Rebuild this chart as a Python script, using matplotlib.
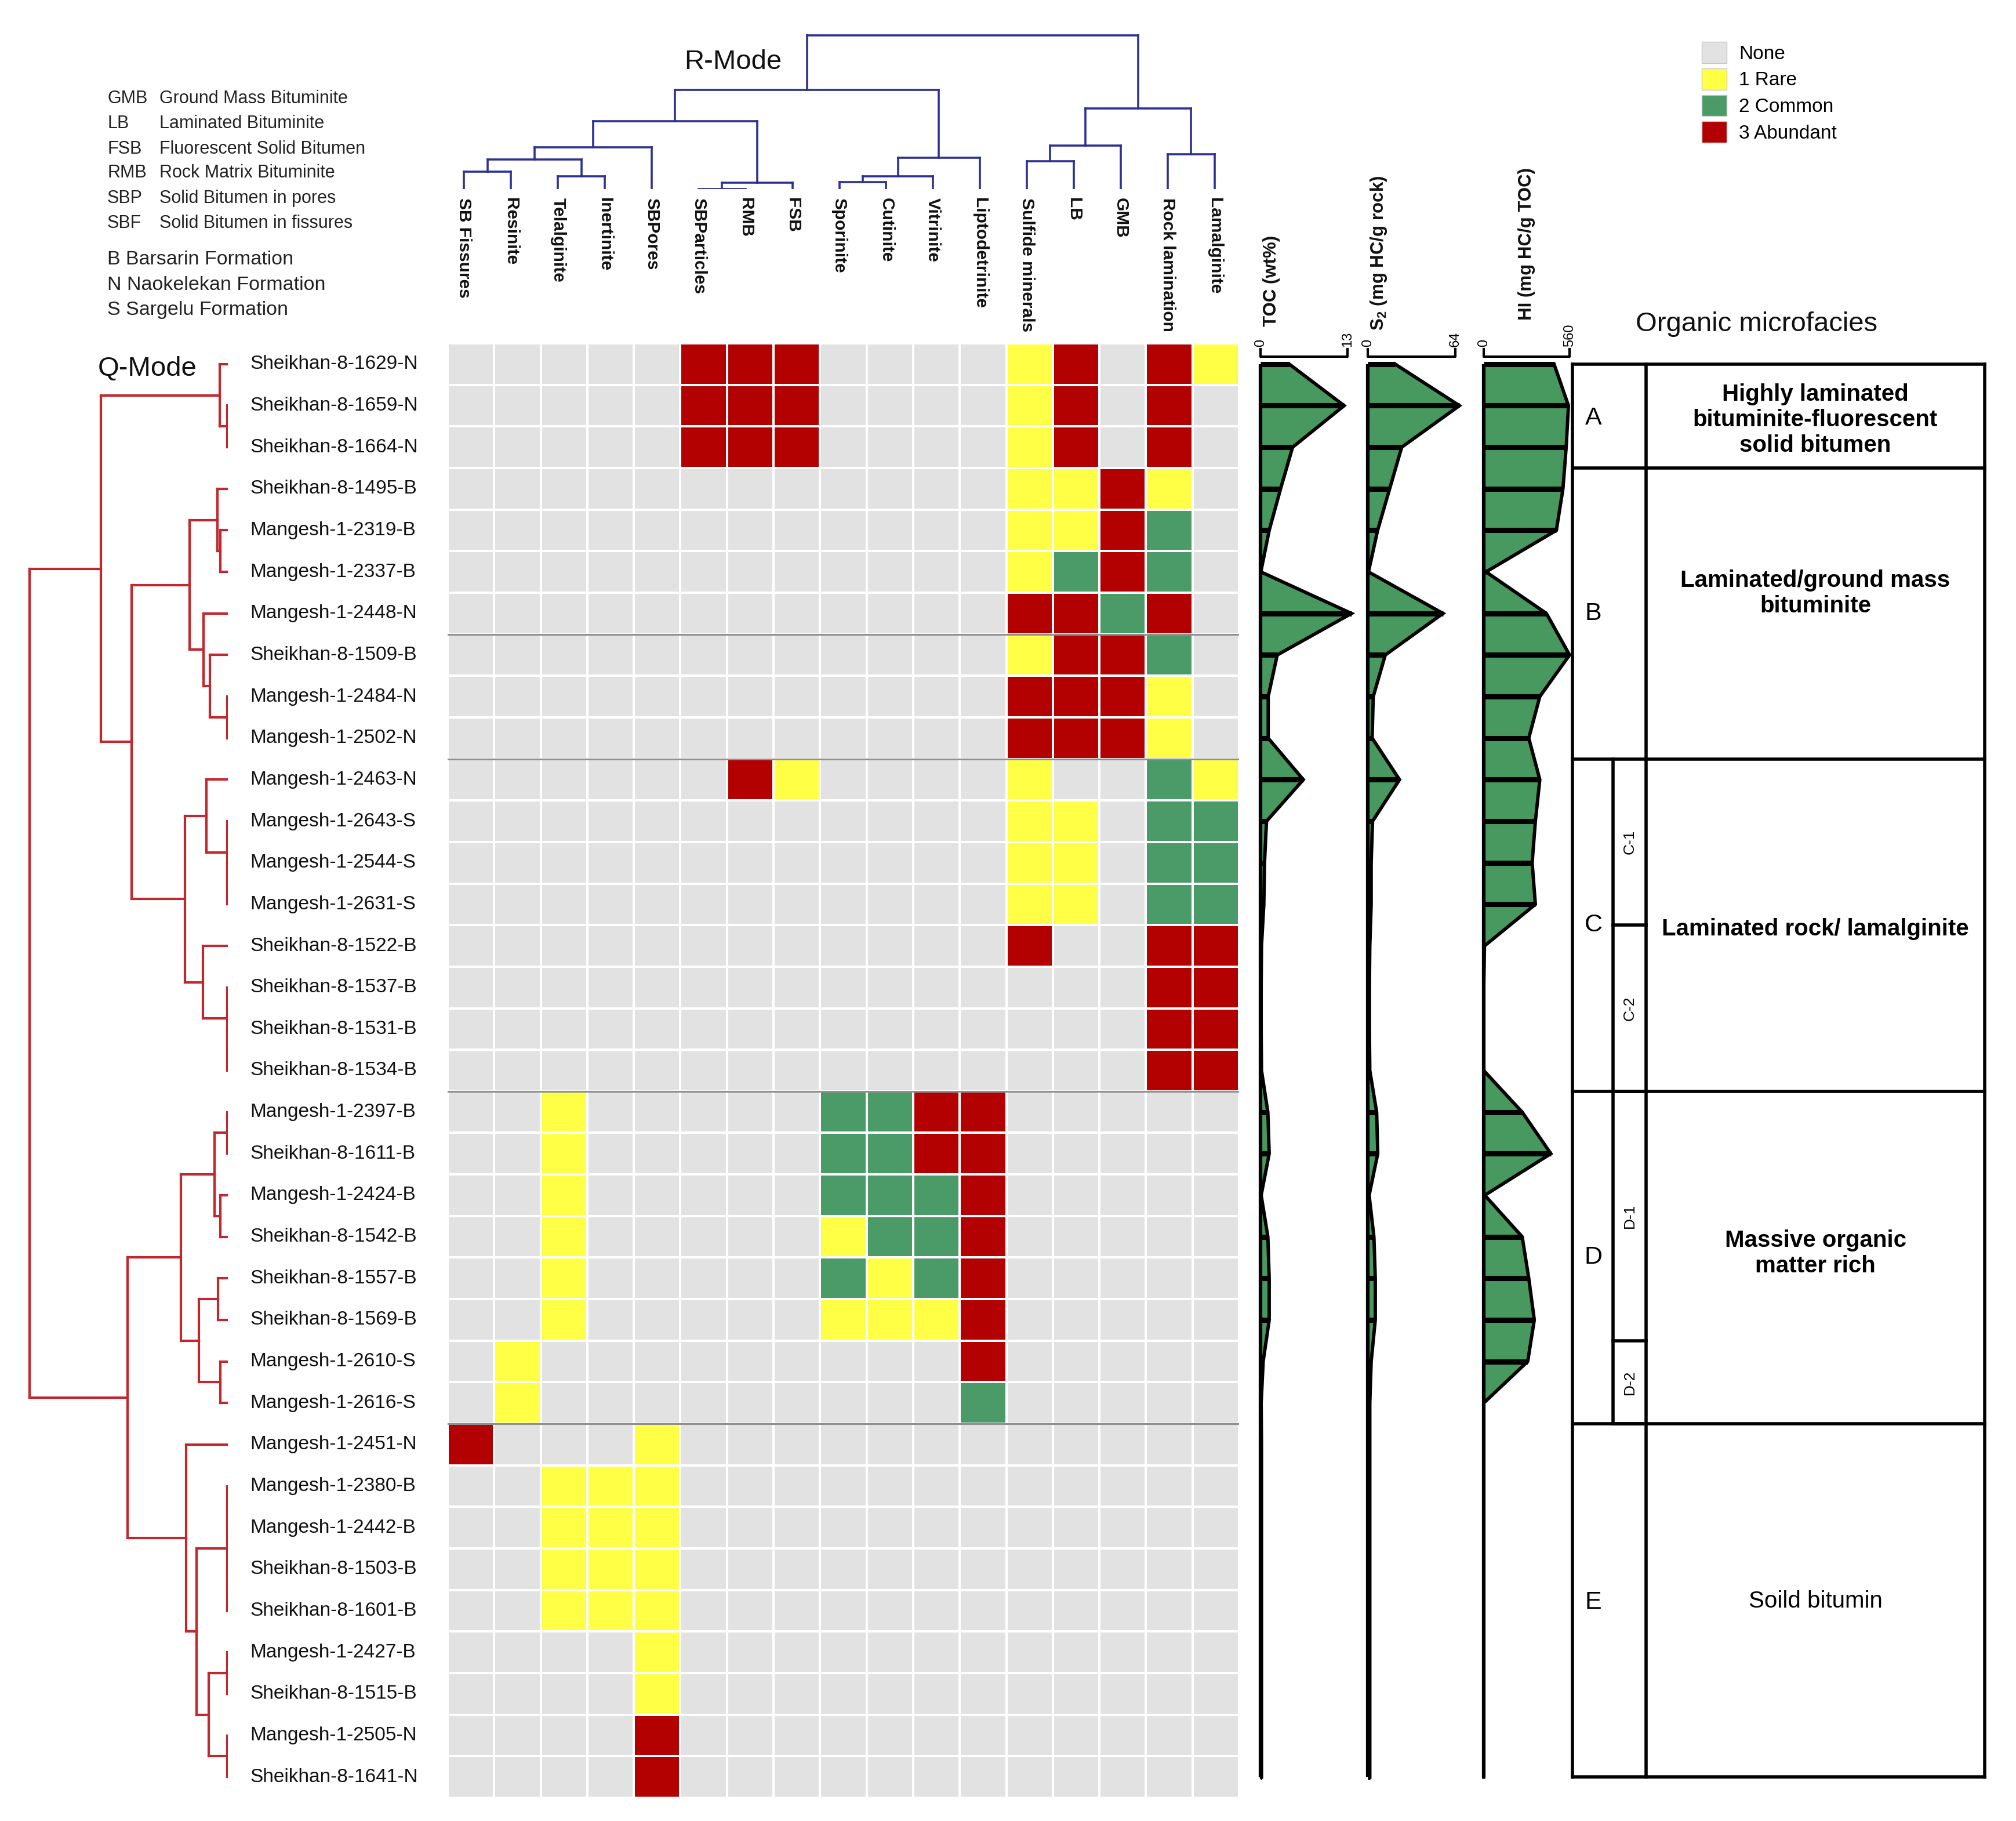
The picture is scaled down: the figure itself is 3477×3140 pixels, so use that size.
import numpy as np
import matplotlib
matplotlib.use("Agg")
import matplotlib.pyplot as plt
from matplotlib.colors import ListedColormap, BoundaryNorm
from matplotlib.patches import Patch
from matplotlib.transforms import blended_transform_factory as blend

plt.rcParams["font.family"] = ["Liberation Sans", "DejaVu Sans"]
plt.rcParams["mathtext.fontset"] = "custom"
plt.rcParams["mathtext.rm"] = "Liberation Sans"
plt.rcParams["mathtext.bf"] = "Liberation Sans:bold"

# ------------------------------------------------------------------ data
samples = [
    "Sheikhan-8-1629-N", "Sheikhan-8-1659-N", "Sheikhan-8-1664-N", "Sheikhan-8-1495-B",
    "Mangesh-1-2319-B", "Mangesh-1-2337-B", "Mangesh-1-2448-N", "Sheikhan-8-1509-B",
    "Mangesh-1-2484-N", "Mangesh-1-2502-N", "Mangesh-1-2463-N", "Mangesh-1-2643-S",
    "Mangesh-1-2544-S", "Mangesh-1-2631-S", "Sheikhan-8-1522-B", "Sheikhan-8-1537-B",
    "Sheikhan-8-1531-B", "Sheikhan-8-1534-B", "Mangesh-1-2397-B", "Sheikhan-8-1611-B",
    "Mangesh-1-2424-B", "Sheikhan-8-1542-B", "Sheikhan-8-1557-B", "Sheikhan-8-1569-B",
    "Mangesh-1-2610-S", "Mangesh-1-2616-S", "Mangesh-1-2451-N", "Mangesh-1-2380-B",
    "Mangesh-1-2442-B", "Sheikhan-8-1503-B", "Sheikhan-8-1601-B", "Mangesh-1-2427-B",
    "Sheikhan-8-1515-B", "Mangesh-1-2505-N", "Sheikhan-8-1641-N",
]

macerals = [
    "SB Fissures", "Resinite", "Telalginite", "Inertinite", "SBPores", "SBParticles",
    "RMB", "FSB", "Sporinite", "Cutinite", "Vitrinite", "Liptodetrinite",
    "Sulfide minerals", "LB", "GMB", "Rock lamination", "Lamalginite",
]

# 0 None, 1 Rare, 2 Common, 3 Abundant
abundance = [
    [0, 0, 0, 0, 0, 3, 3, 3, 0, 0, 0, 0, 1, 3, 0, 3, 1],
    [0, 0, 0, 0, 0, 3, 3, 3, 0, 0, 0, 0, 1, 3, 0, 3, 0],
    [0, 0, 0, 0, 0, 3, 3, 3, 0, 0, 0, 0, 1, 3, 0, 3, 0],
    [0, 0, 0, 0, 0, 0, 0, 0, 0, 0, 0, 0, 1, 1, 3, 1, 0],
    [0, 0, 0, 0, 0, 0, 0, 0, 0, 0, 0, 0, 1, 1, 3, 2, 0],
    [0, 0, 0, 0, 0, 0, 0, 0, 0, 0, 0, 0, 1, 2, 3, 2, 0],
    [0, 0, 0, 0, 0, 0, 0, 0, 0, 0, 0, 0, 3, 3, 2, 3, 0],
    [0, 0, 0, 0, 0, 0, 0, 0, 0, 0, 0, 0, 1, 3, 3, 2, 0],
    [0, 0, 0, 0, 0, 0, 0, 0, 0, 0, 0, 0, 3, 3, 3, 1, 0],
    [0, 0, 0, 0, 0, 0, 0, 0, 0, 0, 0, 0, 3, 3, 3, 1, 0],
    [0, 0, 0, 0, 0, 0, 3, 1, 0, 0, 0, 0, 1, 0, 0, 2, 1],
    [0, 0, 0, 0, 0, 0, 0, 0, 0, 0, 0, 0, 1, 1, 0, 2, 2],
    [0, 0, 0, 0, 0, 0, 0, 0, 0, 0, 0, 0, 1, 1, 0, 2, 2],
    [0, 0, 0, 0, 0, 0, 0, 0, 0, 0, 0, 0, 1, 1, 0, 2, 2],
    [0, 0, 0, 0, 0, 0, 0, 0, 0, 0, 0, 0, 3, 0, 0, 3, 3],
    [0, 0, 0, 0, 0, 0, 0, 0, 0, 0, 0, 0, 0, 0, 0, 3, 3],
    [0, 0, 0, 0, 0, 0, 0, 0, 0, 0, 0, 0, 0, 0, 0, 3, 3],
    [0, 0, 0, 0, 0, 0, 0, 0, 0, 0, 0, 0, 0, 0, 0, 3, 3],
    [0, 0, 1, 0, 0, 0, 0, 0, 2, 2, 3, 3, 0, 0, 0, 0, 0],
    [0, 0, 1, 0, 0, 0, 0, 0, 2, 2, 3, 3, 0, 0, 0, 0, 0],
    [0, 0, 1, 0, 0, 0, 0, 0, 2, 2, 2, 3, 0, 0, 0, 0, 0],
    [0, 0, 1, 0, 0, 0, 0, 0, 1, 2, 2, 3, 0, 0, 0, 0, 0],
    [0, 0, 1, 0, 0, 0, 0, 0, 2, 1, 2, 3, 0, 0, 0, 0, 0],
    [0, 0, 1, 0, 0, 0, 0, 0, 1, 1, 1, 3, 0, 0, 0, 0, 0],
    [0, 1, 0, 0, 0, 0, 0, 0, 0, 0, 0, 3, 0, 0, 0, 0, 0],
    [0, 1, 0, 0, 0, 0, 0, 0, 0, 0, 0, 2, 0, 0, 0, 0, 0],
    [3, 0, 0, 0, 1, 0, 0, 0, 0, 0, 0, 0, 0, 0, 0, 0, 0],
    [0, 0, 1, 1, 1, 0, 0, 0, 0, 0, 0, 0, 0, 0, 0, 0, 0],
    [0, 0, 1, 1, 1, 0, 0, 0, 0, 0, 0, 0, 0, 0, 0, 0, 0],
    [0, 0, 1, 1, 1, 0, 0, 0, 0, 0, 0, 0, 0, 0, 0, 0, 0],
    [0, 0, 1, 1, 1, 0, 0, 0, 0, 0, 0, 0, 0, 0, 0, 0, 0],
    [0, 0, 0, 0, 1, 0, 0, 0, 0, 0, 0, 0, 0, 0, 0, 0, 0],
    [0, 0, 0, 0, 1, 0, 0, 0, 0, 0, 0, 0, 0, 0, 0, 0, 0],
    [0, 0, 0, 0, 3, 0, 0, 0, 0, 0, 0, 0, 0, 0, 0, 0, 0],
    [0, 0, 0, 0, 3, 0, 0, 0, 0, 0, 0, 0, 0, 0, 0, 0, 0],
]
heatmap_separators = [7, 10, 18, 26]

level_labels = ["None", "1 Rare", "2 Common", "3 Abundant"]
level_colors = ["#e2e2e2", "#ffff45", "#4b9b69", "#b30000"]

toc = [4.3, 12.5, 4.8, 3.0, 1.3, 0.05, 13.6, 2.5, 1.15, 1.15, 6.4, 0.9, 0.6, 0.5,
       0.15, 0.1, 0.1, 0.15, 1.1, 1.3, 0.1, 1.1, 1.3, 1.3, 0.4, 0.1, 0.15, 0.15,
       0.15, 0.15, 0.15, 0.15, 0.15, 0.15, 0.15]
s2 = [20, 67, 24.8, 16, 7.2, 0.5, 55, 12.8, 4, 3.2, 23.2, 3.5, 2.5, 2.5, 1.5, 1.2,
      1.2, 1.5, 6.5, 7.3, 1.0, 4.5, 5.5, 5.5, 2.5, 1.5, 1.5, 1.5, 1.5, 1.5, 1.5,
      1.5, 1.5, 1.5, 1.5]
hi = [459, 553, 538, 517, 474, 15, 409, 560, 366, 294, 366, 337, 316, 337, 5, 0,
      0, 0, 251, 438, 7, 251, 294, 330, 287, 0, 0, 0, 0, 0, 0, 0, 0, 0, 0]
log_titles = ["TOC (wt%)", r"S$_{\mathbf{2}}$ (mg HC/g rock)", "HI (mg HC/g TOC)"]
log_max = [13, 64, 560]

# hierarchical merges (child a, child b, distance); new nodes numbered n, n+1, ...
q_merges = [
    (1, 2, 1.5), (0, 35, 14.4),
    (4, 5, 13), (3, 37, 18), (8, 9, 1.5), (7, 39, 31), (6, 40, 42), (38, 41, 66.5),
    (12, 13, 1.0), (11, 43, 1.5), (10, 44, 37), (16, 17, 1.0), (15, 46, 1.5),
    (14, 47, 43), (45, 48, 74),
    (42, 49, 166), (36, 50, 219.5),
    (18, 19, 1.5), (20, 21, 13), (52, 53, 23), (22, 23, 17), (24, 25, 13),
    (55, 56, 50), (54, 57, 81),
    (27, 28, 1.0), (29, 30, 1.0), (59, 60, 1.5), (31, 32, 1.5), (33, 34, 1.5),
    (62, 63, 33), (61, 64, 54), (26, 65, 72),
    (58, 66, 173), (51, 67, 342),
]
r_merges = [
    (0, 1, 30), (2, 3, 22), (17, 18, 51), (19, 4, 72), (5, 6, 0.5), (21, 7, 11),
    (20, 22, 117), (8, 9, 12), (24, 10, 22), (25, 11, 54), (23, 26, 171),
    (12, 13, 48), (28, 14, 75), (15, 16, 60), (29, 30, 139), (27, 31, 264.6),
]

abbrev = [("GMB", "Ground Mass Bituminite"), ("LB", "Laminated Bituminite"),
          ("FSB", "Fluorescent Solid Bitumen"), ("RMB", "Rock Matrix Bituminite"),
          ("SBP", "Solid Bitumen in pores"), ("SBF", "Solid Bitumen in fissures")]
formations = ["B Barsarin Formation", "N Naokelekan Formation", "S Sargelu Formation"]

facies_letters = ["A", "B", "C", "D", "E"]
facies_bounds = [0.5, 3, 10, 18, 26, 34.5]
facies_names = ["Highly laminated\nbituminite-fluorescent\nsolid bitumen",
                "Laminated/ground mass\nbituminite",
                "Laminated rock/ lamalginite",
                "Massive organic\nmatter rich",
                "Soild bitumin"]
facies_bold = [True, True, True, True, False]
facies_text_y = [1.84, 6.02, 14.1, 21.9, 30.27]
facies_letter_y = [1.8, 6.5, 14.0, 22.0, 30.3]
subfacies = [("C-1", 10, 14), ("C-2", 14, 18), ("D-1", 18, 24), ("D-2", 24, 26)]

# ------------------------------------------------------------------ figure
W, H = 3477, 3140
fig = plt.figure(figsize=(W / 100, H / 100), dpi=100)
fig.patch.set_facecolor("white")


def add_ax(x0, y0, x1, y1):
    ax = fig.add_axes([x0 / W, 1 - y1 / H, (x1 - x0) / W, (y1 - y0) / H])
    ax.set_axis_off()
    ax.patch.set_alpha(0)
    return ax


def ftext(x, y, s, **kw):
    return fig.text(x / W, 1 - y / H, s, **kw)


def dendro_segments(merges, n):
    pos = {i: float(i) for i in range(n)}
    hgt = {i: 0.0 for i in range(n)}
    segs = []
    for k, (a, b, h) in enumerate(merges):
        node = n + k
        segs.append(((pos[a], hgt[a]), (pos[a], h)))
        segs.append(((pos[b], hgt[b]), (pos[b], h)))
        segs.append(((pos[a], h), (pos[b], h)))
        pos[node] = (pos[a] + pos[b]) / 2.0
        hgt[node] = h
    return segs


nrow, ncol = len(samples), len(macerals)
HM_X0, HM_X1, HM_Y0, HM_Y1 = 772, 2137, 592, 3100

# ---- heatmap
axH = add_ax(HM_X0, HM_Y0, HM_X1, HM_Y1)
cmap = ListedColormap(level_colors)
norm = BoundaryNorm([-0.5, 0.5, 1.5, 2.5, 3.5], cmap.N)
axH.pcolormesh(np.arange(ncol + 1), np.arange(nrow + 1), np.array(abundance),
               cmap=cmap, norm=norm, edgecolors="#cfcfcf", linewidth=4.2)
axH.pcolormesh(np.arange(ncol + 1), np.arange(nrow + 1), np.array(abundance),
               cmap=cmap, norm=norm, edgecolors="white", linewidth=2.6)
for s in heatmap_separators:
    axH.axhline(s, color="#8f8f8f", lw=2.2)
axH.set_xlim(0, ncol)
axH.set_ylim(nrow, 0)

# row labels
tr_rows = blend(fig.transFigure, axH.transData)
for i, s in enumerate(samples):
    fig.text(431 / W, i + 0.5, s, transform=tr_rows, ha="left", va="center",
             fontsize=24, color="#111111")

# ---- Q-mode dendrogram
axQ = add_ax(30, HM_Y0, 393, HM_Y1)
axQ.set_xlim(363, 0)
axQ.set_ylim(nrow, 0)
for (p0, h0), (p1, h1) in dendro_segments(q_merges, nrow):
    axQ.plot([h0, h1], [p0 + 0.5, p1 + 0.5], color="#c1272d", lw=3.0,
             solid_capstyle="projecting")
ftext(254, 636, "Q-Mode", fontsize=34, ha="center", va="center", color="#111111")

# ---- R-mode dendrogram
axR = add_ax(760, 40, 2135, 326)
axR.set_xlim(0, ncol)
axR.set_ylim(0, 286)
for (p0, h0), (p1, h1) in dendro_segments(r_merges, ncol):
    axR.plot([p0 + 0.5, p1 + 0.5], [h0, h1], color="#2e3192", lw=2.6,
             solid_capstyle="projecting")
ftext(1264, 107, "R-Mode", fontsize=34, ha="center", va="center", color="#111111")

tr_cols = blend(axR.transData, fig.transFigure)
for j, m in enumerate(macerals):
    fig.text(j + 0.5, 1 - 341 / H, m, transform=tr_cols, rotation=-90,
             ha="center", va="top", fontsize=21.5, fontweight="bold", color="#111111")

# ---- abbreviation legend
for k, (a, d) in enumerate(abbrev):
    y = [170, 213, 257, 298, 342, 385][k]
    ftext(185, y, a, fontsize=22, ha="left", va="center", color="#222222")
    ftext(275, y, d, fontsize=22, ha="left", va="center", color="#222222")
for k, f in enumerate(formations):
    ftext(185, [447, 492, 535][k], f, fontsize=24.5, ha="left", va="center",
          color="#222222")

# ---- abundance legend
handles = [Patch(facecolor=c, edgecolor="#c8c8c8", linewidth=1.0) for c in level_colors]
fig.legend(handles, level_labels, loc="upper left",
           bbox_to_anchor=(2935 / W, 1 - 72 / H), frameon=False, fontsize=24,
           handlelength=1.3, handleheight=1.32, handletextpad=0.62,
           labelspacing=0.27, borderpad=0, borderaxespad=0)

# ---- geochemical logs
green = "#47995f"
rowh = (HM_Y1 - HM_Y0) / nrow
log_x = [(2174, 2324), (2359, 2510), (2559, 2707)]
title_pos = [(2193, 563), (2378, 570), (2633, 552)]
for k, vals in enumerate([toc, s2, hi]):
    x0, x1 = log_x[k]
    vmax = log_max[k]
    ax = add_ax(x0, HM_Y0, x1, HM_Y1)
    ax.set_xlim(0, vmax)
    ax.set_ylim(nrow, 0)
    y = np.arange(nrow) + 0.5
    v = np.array(vals, dtype=float)
    ax.fill_betweenx(y, 0, v, color=green, lw=0, clip_on=False)
    ax.hlines(y, 0, v, color="black", lw=6.5, capstyle="butt", clip_on=False)
    ax.plot(v, y, color="black", lw=4.2, clip_on=False, solid_joinstyle="miter")
    ax.plot([0, 0], [y[0], y[-1]], color="black", lw=4.5, solid_capstyle="butt",
            clip_on=False)
    yb = (615 - HM_Y0) / rowh
    yt = (602 - HM_Y0) / rowh
    ax.plot([0, 0, vmax, vmax], [yt, yb, yb, yt], color="black", lw=3.0,
            clip_on=False)
    ax.text(0, (598 - HM_Y0) / rowh, "0", rotation=90, ha="center", va="bottom",
            fontsize=17)
    ax.text(vmax, (598 - HM_Y0) / rowh, str(vmax), rotation=90, ha="center",
            va="bottom", fontsize=17)
    tx, ty = title_pos[k]
    ftext(tx, ty, log_titles[k], rotation=90, ha="center", va="bottom",
          fontsize=22.5, fontweight="bold", color="#111111")

# ---- organic microfacies column
ftext(3030, 559, "Organic microfacies", fontsize=34, ha="center", va="center",
      color="#111111")
axF = add_ax(2700, HM_Y0, 3440, HM_Y1)
axF.set_xlim(2700, 3440)
axF.set_ylim(nrow, 0)
BX0, BXL, BXS, BX1 = 2712, 2782, 2839, 3423
lwb = 4.0
for yb in facies_bounds:
    axF.plot([BX0, BX1], [yb, yb], color="black", lw=lwb, clip_on=False,
             solid_capstyle="projecting")
for xb in (BX0, BXS, BX1):
    axF.plot([xb, xb], [facies_bounds[0], facies_bounds[-1]], color="black",
             lw=lwb, clip_on=False, solid_capstyle="projecting")
axF.plot([BXL, BXL], [subfacies[0][1], subfacies[-1][2]], color="black", lw=lwb,
         clip_on=False)
for name, a, b in subfacies:
    axF.plot([BXL, BXS], [b, b], color="black", lw=lwb, clip_on=False)
    axF.text((BXL + BXS) / 2, (a + b) / 2, name, rotation=90, ha="center",
             va="center", fontsize=19)
for k in range(len(facies_letters)):
    axF.text(2748, facies_letter_y[k], facies_letters[k], fontsize=31,
             ha="center", va="center")
    axF.text((BXS + BX1) / 2, facies_text_y[k], facies_names[k], fontsize=29,
             ha="center", va="center", multialignment="center",
             fontweight="bold" if facies_bold[k] else "normal", linespacing=1.2)

fig.savefig("out.png", dpi=100, facecolor="white")
